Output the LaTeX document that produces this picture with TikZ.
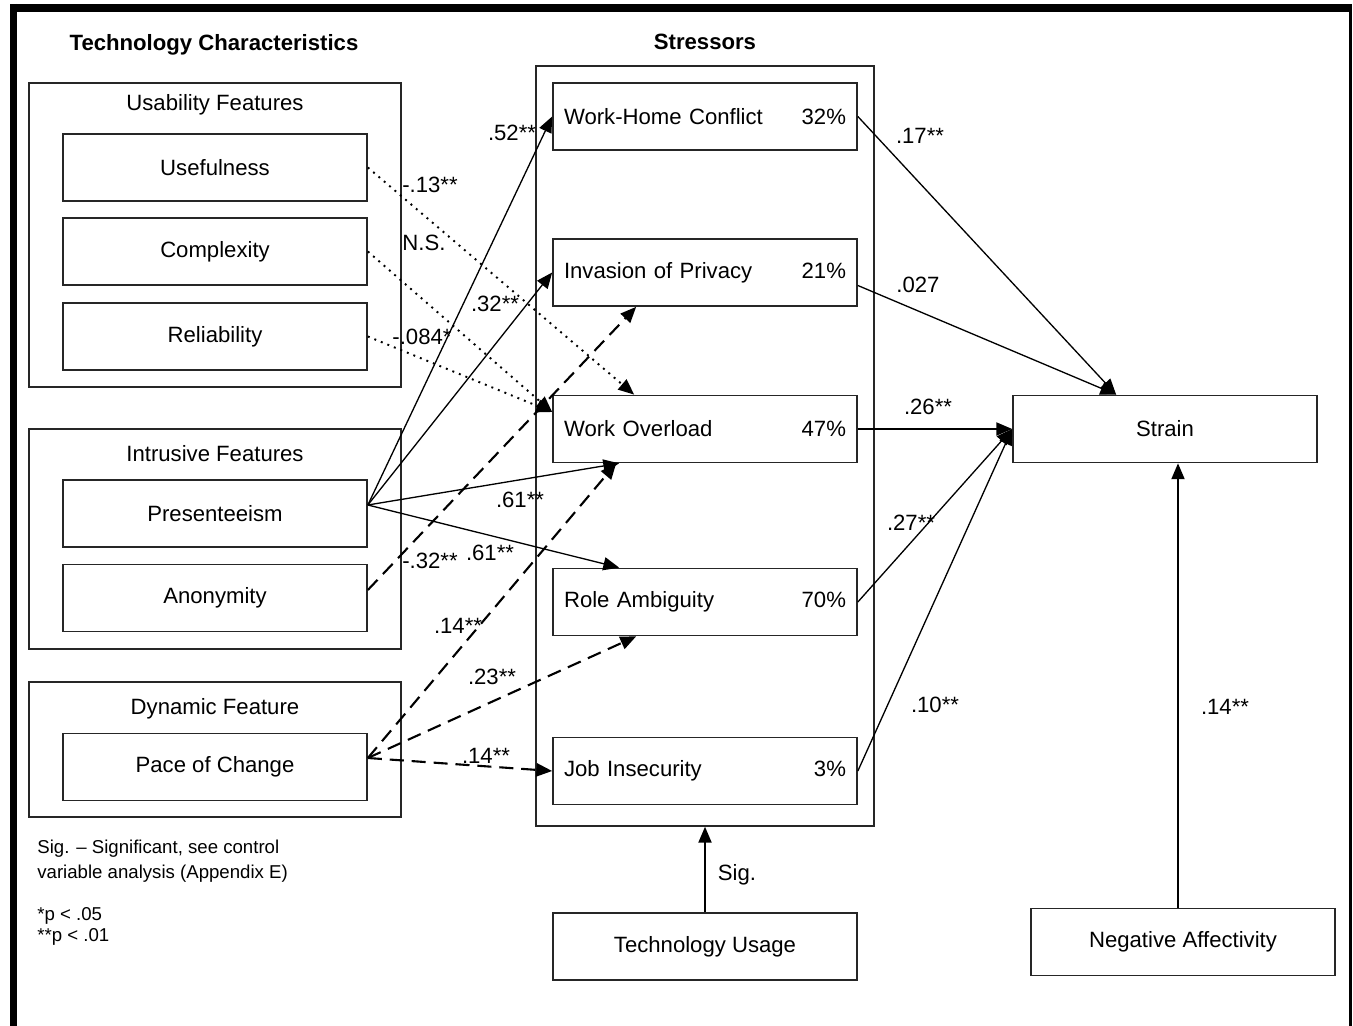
\documentclass[tikz,border=0pt]{standalone}
\usepackage{fontspec}
\setmainfont{Liberation Sans}
\usetikzlibrary{arrows.meta,calc}

\begin{document}
\begin{tikzpicture}[x=0.02cm, y=-0.02cm,
  every node/.style={font=\fontsize{12.6}{15}\selectfont},
  grp/.style={draw=black!85, line width=1pt, minimum width=7.44cm},
  inbox/.style={draw=black!85, line width=1pt, minimum width=6.08cm, minimum height=1.34cm},
  sbox/.style={inbox, text width=5.64cm, inner xsep=0.22cm},
  ttl/.style={font=\bfseries\fontsize{12.6}{15}\selectfont},
  note/.style={font=\fontsize{10.6}{13}\selectfont, anchor=base west, inner sep=0pt},
  arr/.style={line width=0.75pt, -{Triangle[length=9pt,width=7.5pt]}},
  dotarr/.style={arr, line width=1.1pt, dash pattern=on 1.1pt off 2.9pt},
  dasharr/.style={arr, line width=1.2pt, dash pattern=on 8pt off 4.5pt}]
\useasboundingbox (0,0) rectangle (1353,1026);

% frame
\draw [line width=4.5pt] (10,8) -- (1352,8);
\draw [line width=4pt] (13.75,4) -- (13.75,1026);
\draw [line width=1.7pt] (1350.5,4) -- (1350.5,1026);

% technology characteristics
\node (tc) at (214,45) [ttl] {Technology Characteristics};
\node (usab) at (215,235) [grp, minimum height=6.08cm] {};
\node (intr) at (215,539) [grp, minimum height=4.4cm] {};
\node (dyn) at (215,749.5) [grp, minimum height=2.7cm] {};
\node (usabt) at (215,105) [] {Usability Features};
\node (intrt) at (215,454) [] {Intrusive Features};
\node (dynt) at (215,709) [] {Dynamic Feature};

\node (use) at (215,167.5) [inbox] {Usefulness};
\node (comp) at (215,251.5) [inbox] {Complexity};
\node (rel) at (215,336.5) [inbox] {Reliability};
\node (pres) at (215,513.5) [inbox] {Presenteeism};
\node (anon) at (215,598) [inbox] {Anonymity};
\node (pace) at (215,767) [inbox] {Pace of Change};

% stressors
\node (st) at (705,42) [ttl] {Stressors};
\node (strs) at (705,446) [draw=black!85, line width=1pt, minimum width=6.76cm, minimum height=15.2cm] {};
\node (whc) at (705,116.5) [sbox] {Work-Home Conflict\hfill 32\%};
\node (inv) at (705,272.5) [sbox] {Invasion of Privacy\hfill 21\%};
\node (wo) at (705,429) [sbox] {Work Overload\hfill 47\%};
\node (ra) at (705,602) [sbox] {Role Ambiguity\hfill 70\%};
\node (ji) at (705,771) [sbox] {Job Insecurity\hfill 3\%};

\node (strain) at (1165,429) [inbox] {Strain};
\node (tech) at (705,946.5) [inbox] {Technology Usage};
\node (na) at (1183,942) [inbox] {Negative Affectivity};

% usability -> work overload
\draw [dotarr] (use.east) -- ($(wo.north west)+(82,0)$);
\draw [dotarr] (comp.east) -- ($(wo.west)+(0,-17)$);
\draw [dotarr] (rel.east) -- ($(wo.west)+(0,-17)$);

% presenteeism
\coordinate (pr) at ($(pres.east)+(0,-8.5)$);
\draw [arr] (pr) -- (whc.west);
\draw [arr] (pr) -- (inv.west);
\draw [arr] (pr) -- ($(wo.south west)+(67,0)$);
\draw [arr] (pr) -- ($(ra.north west)+(67,0)$);

% anonymity and pace of change
\draw [dasharr] ($(anon.east)+(0,-8)$) -- ($(inv.south west)+(84,0)$);
\coordinate (pc) at ($(pace.east)+(0,-9)$);
\draw [dasharr] (pc) -- ($(wo.south west)+(64,0)$);
\draw [dasharr] (pc) -- ($(ra.south west)+(84,0)$);
\draw [dasharr] (pc) -- (ji.west);

% stressors -> strain
\draw [arr] (whc.east) -- ($(strain.north west)+(104,0)$);
\draw [arr] ($(inv.east)+(0,13)$) -- ($(strain.north west)+(104,0)$);
\draw [arr] (wo.east) -- (strain.west);
\draw [arr] (ra.east) -- (strain.west);
\draw [arr] (ji.east) -- (strain.west);
\draw [arr] ($(na.north)+(-5,0)$) coordinate (na1) -- (na1 |- strain.south);
\draw [arr] (tech.north) -- (strs.south);

% path labels
\node (l1) at (512,133) {.52**};
\node (l2) at (430,185) {-.13**};
\node (l3) at (424,243) {N.S.};
\node (l4) at (495,304) {.32**};
\node (l5) at (422,337) {-.084*};
\node (l6) at (520,500) {.61**};
\node (l7) at (490,553) {.61**};
\node (l8) at (430,561) {-.32**};
\node (l9) at (458,626) {.14**};
\node (l10) at (492,677) {.23**};
\node (l11) at (486,756) {.14**};
\node (l12) at (920,136) {.17**};
\node (l13) at (918,285) {.027};
\node (l14) at (928,407) {.26**};
\node (l15) at (911,523) {.27**};
\node (l16) at (935,705) {.10**};
\node (l17) at (1225,707) {.14**};
\node (l18) at (737,875) {Sig.};

% legend
\node (n1) at (37,854) [note] {Sig. -- Significant, see control};
\node (n2) at (37,879) [note] {variable analysis (Appendix E)};
\node (n3) at (37,921) [note] {*p < .05};
\node (n4) at (37,942) [note] {**p < .01};
\end{tikzpicture}
\end{document}
